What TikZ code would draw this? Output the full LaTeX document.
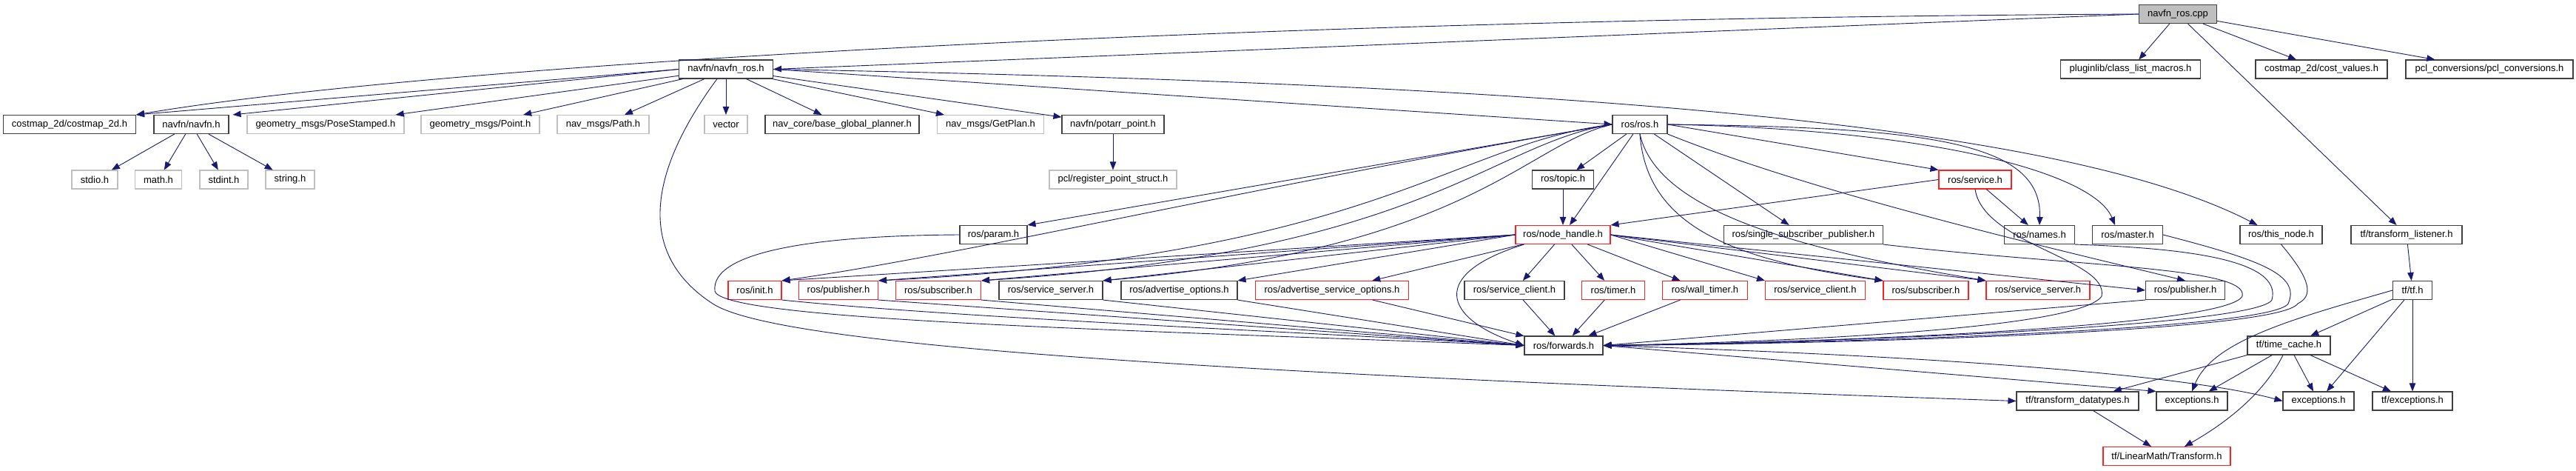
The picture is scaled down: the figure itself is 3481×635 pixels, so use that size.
\documentclass[tikz,border=0pt]{standalone}
\usepackage{fontspec}
\setmainfont{Liberation Sans}
\usetikzlibrary{arrows.meta,calc}
\definecolor{edgec}{HTML}{191970}
\definecolor{bordk}{HTML}{404040}
\definecolor{borgy}{HTML}{BFBFBF}
\definecolor{borrd}{HTML}{FF2020}
\definecolor{rootf}{HTML}{BFBFBF}
\begin{document}
\begin{tikzpicture}[x=1pt,y=-1pt,
  font=\fontsize{13}{15}\selectfont,
  nd/.style={draw=bordk,line width=1.1pt,fill=white,minimum height=25pt,inner sep=0pt,text=black},
  gy/.style={nd,draw=borgy},
  rd/.style={nd,draw=borrd},
  rt/.style={nd,fill=rootf},
  e/.style={draw=edgec,line width=0.9pt,-{Triangle[length=11pt,width=8.5pt]}}]
\useasboundingbox[fill=white] (0,0) rectangle (3481,635);
% row 0
\node[rt,minimum width=105pt] (cpp) at (2943,19) {navfn\_ros.cpp};
% row 1
\node[nd,minimum width=127pt] (nros) at (981,93.5) {navfn/navfn\_ros.h};
\node[nd,minimum width=189pt] (plug) at (2879,93.5) {pluginlib/class\_list\_macros.h};
\node[nd,minimum width=178pt] (costv) at (3137,93.5) {costmap\_2d/cost\_values.h};
\node[nd,minimum width=226pt] (pclc) at (3364,93.5) {pcl\_conversions/pcl\_conversions.h};
% row 2
\node[nd,minimum width=179pt] (cm2d) at (94,168) {costmap\_2d/costmap\_2d.h};
\node[nd,minimum width=101pt] (navfn) at (258.5,168) {navfn/navfn.h};
\node[gy,minimum width=212pt] (pose) at (440,168) {geometry\_msgs/PoseStamped.h};
\node[gy,minimum width=160pt] (point) at (649,168) {geometry\_msgs/Point.h};
\node[gy,minimum width=124pt] (path) at (815,168) {nav\_msgs/Path.h};
\node[gy,minimum width=58pt] (vec) at (981,168) {vector};
\node[nd,minimum width=208pt] (bgp) at (1138,168) {nav\_core/base\_global\_planner.h};
\node[gy,minimum width=144pt] (getplan) at (1338.5,168) {nav\_msgs/GetPlan.h};
\node[nd,minimum width=138pt] (potarr) at (1504,168) {navfn/potarr\_point.h};
\node[nd,minimum width=74pt] (ros) at (2216,168) {ros/ros.h};
% row 3
\node[gy,minimum width=62pt] (stdio) at (128,242.5) {stdio.h};
\node[gy,minimum width=63pt] (math) at (214,242.5) {math.h};
\node[gy,minimum width=65pt] (stdint) at (302.5,242.5) {stdint.h};
\node[gy,minimum width=66pt] (string) at (392,242.5) {string.h};
\node[gy,minimum width=172pt] (regpt) at (1504,242.5) {pcl/register\_point\_struct.h};
\node[nd,minimum width=83pt] (topic) at (2112,242.5) {ros/topic.h};
\node[rd,minimum width=98pt] (service) at (2669,242.5) {ros/service.h};
% row 4
\node[nd,minimum width=91pt] (param) at (1342.5,317) {ros/param.h};
\node[rd,minimum width=128pt] (nh) at (2112,317) {ros/node\_handle.h};
\node[nd,minimum width=215pt] (ssp) at (2437,317) {ros/single\_subscriber\_publisher.h};
\node[nd,minimum width=95pt] (names) at (2756,317) {ros/names.h};
\node[nd,minimum width=95pt] (master) at (2875,317) {ros/master.h};
\node[nd,minimum width=111pt] (thisnode) at (3082.5,317) {ros/this\_node.h};
\node[nd,minimum width=150pt] (tfl) at (3252,317) {tf/transform\_listener.h};
% row 5
\node[rd,minimum width=72pt] (init) at (1020,392) {ros/init.h};
\node[rd,minimum width=107pt] (pubA) at (1133,392) {ros/publisher.h};
\node[rd,minimum width=115pt] (subA) at (1268,392) {ros/subscriber.h};
\node[nd,minimum width=140pt] (ssA) at (1420,392) {ros/service\_server.h};
\node[nd,minimum width=157pt] (advo) at (1593.5,392) {ros/advertise\_options.h};
\node[rd,minimum width=207pt] (adso) at (1800,392) {ros/advertise\_service\_options.h};
\node[nd,minimum width=135pt] (scA) at (2046.5,392) {ros/service\_client.h};
\node[rd,minimum width=84.5pt] (timer) at (2180,392) {ros/timer.h};
\node[rd,minimum width=115pt] (wtimer) at (2304,392) {ros/wall\_timer.h};
\node[rd,minimum width=135pt] (scB) at (2453,392) {ros/service\_client.h};
\node[rd,minimum width=115pt] (subB) at (2602.5,392) {ros/subscriber.h};
\node[rd,minimum width=140pt] (ssB) at (2754,392) {ros/service\_server.h};
\node[nd,minimum width=107pt] (pubB) at (2953,392) {ros/publisher.h};
\node[nd,minimum width=53pt] (tf) at (3260,392) {tf/tf.h};
% row 6
\node[nd,minimum width=106pt] (fwd) at (2113,466.5) {ros/forwards.h};
\node[nd,minimum width=112pt] (tcache) at (3093,466.5) {tf/time\_cache.h};
% row 7
\node[nd,minimum width=165pt] (tdt) at (2807.5,541.5) {tf/transform\_datatypes.h};
\node[nd,minimum width=96pt] (exc1) at (2962,541.5) {exceptions.h};
\node[nd,minimum width=96pt] (exc2) at (3133,541.5) {exceptions.h};
\node[nd,minimum width=108pt] (tfexc) at (3260,541.5) {tf/exceptions.h};
% row 8
\node[rd,minimum width=172pt] (ltf) at (2928,616) {tf/LinearMath/Transform.h};

% ---- edges from navfn_ros.cpp
\draw[e] (cpp.west) .. controls (1700,25) and (600,85) .. (cm2d.north east);
\draw[e] (cpp.west) -- (nros.east);
\draw[e] (cpp) -- (plug);
\draw[e] (cpp) -- (costv);
\draw[e] (cpp) -- (pclc);
\draw[e] (cpp) -- (tfl);
% ---- edges from navfn_ros.h
\draw[e] (nros.west) -- (cm2d.north east);
\draw[e] (nros.west) -- ($(navfn.north east)+(5,0)$);
\draw[e] (nros) -- (pose);
\draw[e] (nros) -- (point);
\draw[e] (nros) -- (path);
\draw[e] (nros) -- (vec);
\draw[e] (nros) -- (bgp);
\draw[e] (nros) -- (getplan);
\draw[e] (nros) -- (potarr);
\draw[e] (nros.east) -- (ros.west);
\draw[e] (nros.east) .. controls (2200,115) and (2800,175) .. ($(thisnode.north)+(-32,0)$);
\draw[e] ($(nros.south)+(-12,0)$) .. controls (900,200) and (840,330) .. (963,410)
   .. controls (1040,460) and (1500,500) .. (tdt.west);
% ---- navfn.h, potarr
\draw[e] (navfn) -- (stdio);
\draw[e] (navfn) -- (math);
\draw[e] (navfn) -- (stdint);
\draw[e] (navfn) -- (string);
\draw[e] (potarr) -- (regpt);
% ---- ros.h
\draw[e] (ros) -- (topic);
\draw[e] (ros) -- (nh);
\draw[e] (ros.west) -- (param.north east);
\draw[e] (ros.west) .. controls (1700,250) and (1300,345) .. (init.north east);
\draw[e] (ros.west) .. controls (1960,195) and (1860,345) .. (pubA.north east);
\draw[e] (ros.west) .. controls (2010,195) and (1930,340) .. (subA.north east);
\draw[e] (ros.west) .. controls (2060,195) and (1990,335) .. (ssA.north east);
\draw[e] (ros.east) -- (service.north west);
\draw[e] (ros) -- (ssp);
\draw[e] (ros.east) .. controls (2600,172) and (2760,190) .. (names.north);
\draw[e] (ros.east) .. controls (2620,175) and (2830,235) .. ($(master.north)+(-17,0)$);
\draw[e] (ros.south east) .. controls (2450,260) and (2750,330) .. (pubB.north);
\draw[e] (ros.south) .. controls (2225,300) and (2330,350) .. (subB.north west);
\draw[e] (ros.south) .. controls (2240,290) and (2450,340) .. (ssB.north west);
\draw[e] (topic) -- (nh);
% ---- service.h
\draw[e] (service.west) -- (nh.north east);
\draw[e] (service) -- (names);
\draw[e] (service.south) .. controls (2680,330) and (2850,350) .. (2840,400)
   .. controls (2810,445) and (2400,462) .. (fwd.east);
% ---- node_handle.h
\draw[e] ($(nh.south west)+(12,0)$) .. controls (1930,370) and (1950,430) .. (fwd.west);
\draw[e] (nh.west) -- (init.north east);
\draw[e] (nh.west) -- (pubA.north east);
\draw[e] (nh.west) -- (subA.north east);
\draw[e] (nh.west) -- (ssA.north east);
\draw[e] (nh.west) -- (advo.north east);
\draw[e] (nh) -- (adso);
\draw[e] (nh) -- (scA);
\draw[e] (nh) -- (timer);
\draw[e] (nh) -- (wtimer);
\draw[e] (nh.east) -- (scB.north west);
\draw[e] (nh.east) -- (subB.north west);
\draw[e] (nh.east) -- (ssB.north west);
\draw[e] (nh.east) -- (pubB.west);
% ---- to forwards.h
\draw[e] (param.west) .. controls (1100,318) and (960,340) .. (966,393)
   .. controls (975,432) and (1500,445) .. (fwd.west);
\draw[e] (init.south east) .. controls (1300,430) and (1800,450) .. (fwd.west);
\draw[e] (pubA.south east) -- (fwd.west);
\draw[e] (subA.south east) -- (fwd.west);
\draw[e] (ssA.south east) -- (fwd.west);
\draw[e] (advo.south east) -- (fwd.west);
\draw[e] (adso) -- (fwd);
\draw[e] (scA) -- (fwd);
\draw[e] (timer) -- (fwd);
\draw[e] (wtimer) -- (fwd);
\draw[e] (ssp.south east) .. controls (2800,360) and (3040,360) .. (3030,400)
   .. controls (3010,440) and (2500,462) .. (fwd.east);
\draw[e] (names.south east) .. controls (2950,335) and (3085,350) .. (3070,405)
   .. controls (3050,440) and (2500,462) .. (fwd.east);
\draw[e] (master.east) .. controls (3050,350) and (3110,370) .. (3092,410)
   .. controls (3070,445) and (2500,463) .. (fwd.east);
\draw[e] (thisnode.south) .. controls (3125,380) and (3125,400) .. (3105,410)
   .. controls (3080,448) and (2500,464) .. (fwd.east);
\draw[e] (pubB.south west) -- (fwd.east);
% ---- forwards.h
\draw[e] (fwd.east) -- (exc1.north west);
\draw[e] (fwd.east) .. controls (2600,480) and (2950,505) .. (exc2.west);
% ---- tf
\draw[e] (tfl) -- (tf);
\draw[e] (tf) -- (tcache);
\draw[e] (tf.west) .. controls (3100,430) and (2990,460) .. (exc1.north);
\draw[e] (tf) -- (exc2);
\draw[e] (tf) -- (tfexc);
\draw[e] (tcache.south west) -- ($(tdt.north east)+(-35,0)$);
\draw[e] (tcache) -- (exc1);
\draw[e] (tcache) -- (exc2);
\draw[e] (tcache) -- (tfexc);
\draw[e] ($(tcache.south)+(-8,0)$) .. controls (3060,530) and (3010,570) .. ($(ltf.north)+(24,0)$);
\draw[e] (tdt) -- (ltf);
\end{tikzpicture}
\end{document}
